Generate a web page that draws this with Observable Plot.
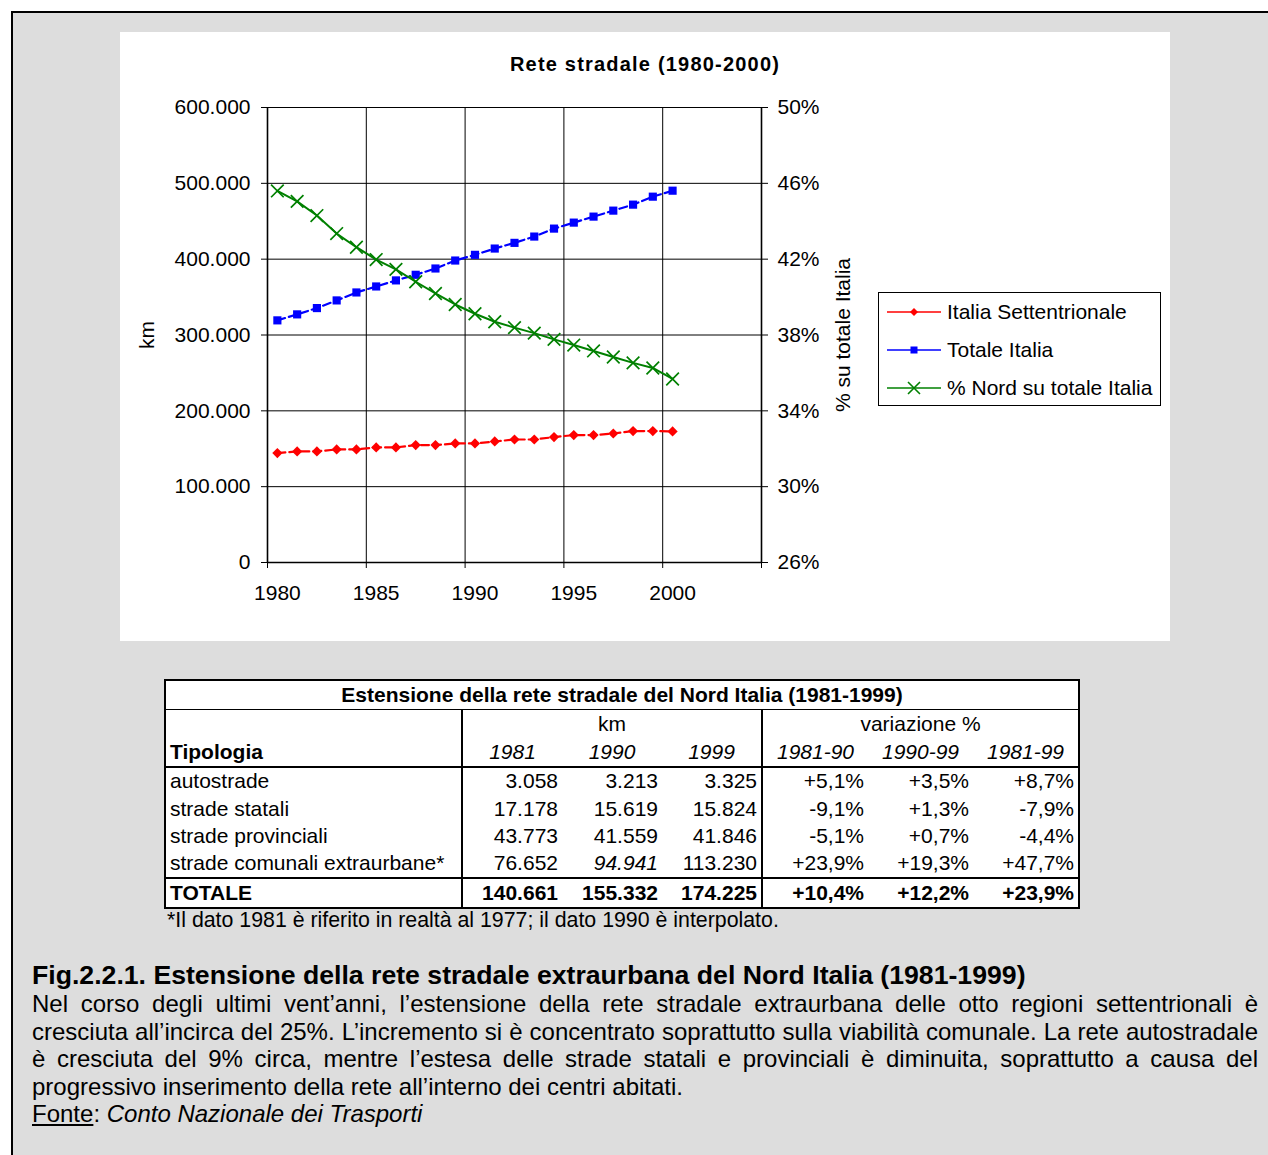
<!DOCTYPE html>
<html><head><meta charset="utf-8">
<script src="https://cdn.jsdelivr.net/npm/d3@7"></script>
<script src="https://cdn.jsdelivr.net/npm/@observablehq/plot@0.6"></script>
<style>
html,body{margin:0;padding:0;background:#fff;overflow:hidden;width:1268px;height:1155px;font-family:"Liberation Sans",Arial,Helvetica,sans-serif;color:#000;}
.abs{position:absolute;}
#frame{left:11px;top:11px;width:1300px;height:1200px;border:2px solid #000;background:#dddddd;box-sizing:border-box}
#panel{left:120px;top:32px;width:1050px;height:609px;background:#fff}
#ctitle{left:120px;top:50px;width:1050px;text-align:center;font-weight:bold;font-size:20px;letter-spacing:1.2px;line-height:28px}
#legend{left:878px;top:292px;width:283px;height:114px;border:1px solid #000;background:#fff;box-sizing:border-box}
.lrow{position:absolute;left:0;height:30px;font-size:21px;line-height:30px;white-space:nowrap}
.lrow svg{position:absolute;left:7px;top:0}
.lrow span{position:absolute;left:68px;top:0}
#tbl{left:164px;top:679px;border-collapse:collapse;table-layout:fixed;font-size:21px;background:#fff;border:2px solid #000}
#tbl td{padding:0 4px;white-space:nowrap;line-height:normal;overflow:visible}
#foot{left:167px;top:907px;font-size:20px;white-space:nowrap;line-height:26px}
#cap{left:32px;top:960px;font-size:26px;font-weight:bold;white-space:nowrap;line-height:30px}
#body{left:32px;top:990px;width:1226px;font-size:24px;line-height:27.6px}
#body div{text-align:justify;text-align-last:justify;white-space:nowrap;overflow:visible}
#body div.last{text-align-last:left}
</style></head>
<body>
<div id="frame" class="abs"></div>
<div id="panel" class="abs"></div>
<div id="ctitle" class="abs">Rete stradale (1980-2000)</div>
<div id="legend" class="abs"></div>
<table id="tbl" class="abs"></table>
<div id="foot" class="abs">*Il dato 1981 è riferito in realtà al 1977; il dato 1990 è interpolato.</div>
<div id="cap" class="abs">Fig.2.2.1. Estensione della rete stradale extraurbana del Nord Italia (1981-1999)</div>
<div id="body" class="abs"></div>
<script>
// ---------- chart data ----------
const years = [1980,1981,1982,1983,1984,1985,1986,1987,1988,1989,1990,1991,1992,1993,1994,1995,1996,1997,1998,1999,2000];
const italiaSettentrionale = [144300,146500,146500,149100,149100,151800,151800,154800,154800,157000,157000,159600,162200,162200,165400,168000,168000,170100,173300,173300,172800];
const totaleItalia = [319300,327200,335500,345600,356100,364000,372000,379400,387700,398200,405700,414000,421500,429800,440300,448200,456100,464000,471900,482400,490300];
const quotaNord = [45.6,45.05,44.3,43.35,42.63,41.98,41.46,40.81,40.19,39.61,39.12,38.7,38.39,38.1,37.77,37.47,37.16,36.84,36.53,36.26,35.68];
const kmTicks = [0,100000,200000,300000,400000,500000,600000];
const pctTicks = [26,30,34,38,42,46,50];
const yearLabels = [1980,1985,1990,1995,2000];
const yearBounds = [1979.5,1984.5,1989.5,1994.5,1999.5,2004.5];
const seriesNames = ["Italia Settentrionale","Totale Italia","% Nord su totale Italia"];
const seriesColors = ["#ff0000","#0000ff","#008000"];

// ---------- table data ----------
const tableTitle = "Estensione della rete stradale del Nord Italia (1981-1999)";
const tipologie = ["autostrade","strade statali","strade provinciali","strade comunali extraurbane*"];
const km1981 = [3058,17178,43773,76652];
const km1990 = [3213,15619,41559,94941];
const km1999 = [3325,15824,41846,113230];
const var8190 = [5.1,-9.1,-5.1,23.9];
const var9099 = [3.5,1.3,0.7,19.3];
const var8199 = [8.7,-7.9,-4.4,47.7];
const totaleKm = [140661,155332,174225];
const totaleVar = [10.4,12.2,23.9];

// ---------- text ----------
const bodyLines = [
  "Nel corso degli ultimi vent’anni, l’estensione della rete stradale extraurbana delle otto regioni settentrionali è",
  "cresciuta all’incirca del 25%. L’incremento si è concentrato soprattutto sulla viabilità comunale. La rete autostradale",
  "è cresciuta del 9% circa, mentre l’estesa delle strade statali e provinciali è diminuita, soprattutto a causa del",
  "progressivo inserimento della rete all’interno dei centri abitati."
];

const fmtKm = d => d3.format(",")(d).replace(/,/g, ".");
const fmtPct = v => (v >= 0 ? "+" : "-") + Math.abs(v).toFixed(1).replace(".", ",") + "%";
const toKm = p => (p - 26) / 24 * 600000;
const toPct = k => Math.round(26 + k / 600000 * 24);

const data = years.map((y, i) => ({year: y, nord: italiaSettentrionale[i], tot: totaleItalia[i], q: toKm(quotaNord[i])}));

const chart = Plot.plot({
  width: 1050, height: 609,
  marginLeft: 147, marginRight: 409, marginTop: 75, marginBottom: 79,
  style: {fontFamily: "'Liberation Sans', Arial, sans-serif", fontSize: "21px", color: "#000", background: "transparent", overflow: "visible"},
  x: {domain: [1979.5, 2004.5]},
  y: {domain: [0, 600000]},
  marks: [
    Plot.gridY(kmTicks.slice(1), {stroke: "#000", strokeOpacity: 1, strokeWidth: 1}),
    Plot.gridX(yearBounds.slice(1, -1), {stroke: "#000", strokeOpacity: 1, strokeWidth: 1}),
    Plot.axisY(kmTicks, {anchor: "left", tickSize: 6, tickPadding: 11, tickFormat: fmtKm, label: null}),
    Plot.axisY(pctTicks.map(toKm), {anchor: "right", tickSize: 6, tickPadding: 10, tickFormat: d => toPct(d) + "%", label: null}),
    Plot.axisX(yearBounds, {tickSize: 6, tickFormat: () => "", label: null}),
    Plot.axisX(yearLabels, {tickSize: 0, tickPadding: 23, tickFormat: d => String(d), label: null}),
    Plot.ruleX([1979.5, 2004.5], {stroke: "#000", strokeWidth: 1.6}),
    Plot.ruleY([0], {stroke: "#000", strokeWidth: 1.6}),
    Plot.text(["km"], {text: d => d, frameAnchor: "left", dx: -120, rotate: -90, textAnchor: "middle", fontSize: 21}),
    Plot.text(["% su totale Italia"], {text: d => d, frameAnchor: "right", dx: 82, rotate: -90, textAnchor: "middle", fontSize: 21}),
    Plot.line(data, {x: "year", y: "nord", stroke: seriesColors[0], strokeWidth: 2.2, strokeDasharray: "8,4"}),
    Plot.dot(data, {x: "year", y: "nord", symbol: "diamond2", fill: seriesColors[0], stroke: "none", r: 4.6}),
    Plot.line(data, {x: "year", y: "tot", stroke: seriesColors[1], strokeWidth: 2.2, strokeDasharray: "8,4"}),
    Plot.dot(data, {x: "year", y: "tot", symbol: "square", fill: seriesColors[1], stroke: "none", r: 4.6}),
    Plot.line(data, {x: "year", y: "q", stroke: seriesColors[2], strokeWidth: 2}),
    Plot.dot(data, {x: "year", y: "q", symbol: "times", stroke: seriesColors[2], fill: "none", strokeWidth: 1.7, r: 5.8})
  ]
});
document.getElementById("panel").appendChild(chart);

// ---------- legend ----------
const legend = document.getElementById("legend");
const symbols = ["diamond", "square", "times"];
const rowTops = [4, 42, 80];
seriesNames.forEach((name, i) => {
  const row = document.createElement("div");
  row.className = "lrow";
  row.style.top = rowTops[i] + "px";
  const c = seriesColors[i];
  let mk = "";
  if (symbols[i] === "diamond") mk = `<path d="M28,11 L32,15 L28,19 L24,15 Z" fill="${c}"/>`;
  if (symbols[i] === "square") mk = `<rect x="24.5" y="11.5" width="7" height="7" fill="${c}"/>`;
  if (symbols[i] === "times") mk = `<path d="M22,9 L34,21 M34,9 L22,21" stroke="${c}" stroke-width="1.6"/>`;
  row.innerHTML = `<svg width="58" height="30"><line x1="1" y1="15" x2="55" y2="15" stroke="${c}" stroke-width="1.6"/>${mk}</svg><span>${name}</span>`;
  legend.appendChild(row);
});

// ---------- table ----------
const tbl = document.getElementById("tbl");
const colW = [297, 100, 100, 100, 106, 105, 106];
const B = "2px solid #000";
let html = "<colgroup>" + colW.map(w => `<col style="width:${w}px">`).join("") + "</colgroup>";
html += `<tr style="height:29px"><td colspan="7" style="text-align:center;font-weight:bold;border-bottom:1px solid #000">${tableTitle}</td></tr>`;
html += `<tr style="height:29px"><td style="border-right:${B}"></td><td colspan="3" style="text-align:center;border-right:${B}">km</td><td colspan="3" style="text-align:center">variazione %</td></tr>`;
const hdrYears = ["1981", "1990", "1999"], hdrVar = ["1981-90", "1990-99", "1981-99"];
html += `<tr style="height:29px;border-bottom:${B}"><td style="font-weight:bold;border-right:${B}">Tipologia</td>` +
  hdrYears.map((h, j) => `<td style="text-align:center;font-style:italic;${j === 2 ? "border-right:" + B : ""}">${h}</td>`).join("") +
  hdrVar.map(h => `<td style="text-align:center;font-style:italic">${h}</td>`).join("") + "</tr>";
tipologie.forEach((t, i) => {
  const kms = [km1981[i], km1990[i], km1999[i]];
  const vs = [var8190[i], var9099[i], var8199[i]];
  html += `<tr style="height:27.7px"><td style="border-right:${B}">${t}</td>` +
    kms.map((v, j) => `<td style="text-align:right;${j === 2 ? "border-right:" + B + ";" : ""}${(i === 3 && j === 1) ? "font-style:italic;" : ""}">${fmtKm(v)}</td>`).join("") +
    vs.map(v => `<td style="text-align:right">${fmtPct(v)}</td>`).join("") + "</tr>";
});
html += `<tr style="height:30px;border-top:${B};font-weight:bold"><td style="border-right:${B}">TOTALE</td>` +
  totaleKm.map((v, j) => `<td style="text-align:right;${j === 2 ? "border-right:" + B : ""}">${fmtKm(v)}</td>`).join("") +
  totaleVar.map(v => `<td style="text-align:right">${fmtPct(v)}</td>`).join("") + "</tr>";
tbl.innerHTML = html;

// ---------- body text ----------
const body = document.getElementById("body");
bodyLines.forEach((l, i) => {
  const d = document.createElement("div");
  d.textContent = l;
  if (i === bodyLines.length - 1) d.className = "last";
  body.appendChild(d);
});
const fonte = document.createElement("div");
fonte.className = "last";
fonte.innerHTML = '<span style="text-decoration:underline">Fonte</span>: <i>Conto Nazionale dei Trasporti</i>';
body.appendChild(fonte);

// fit a few single-line texts to their measured widths in the reference
function fit(id, target) {
  const el = document.getElementById(id);
  el.style.display = "inline-block";
  const w = el.getBoundingClientRect().width;
  const fs = parseFloat(getComputedStyle(el).fontSize);
  el.style.fontSize = (fs * target / w).toFixed(2) + "px";
}
fit("cap", 994);
fit("foot", 612);
</script>
</body></html>
